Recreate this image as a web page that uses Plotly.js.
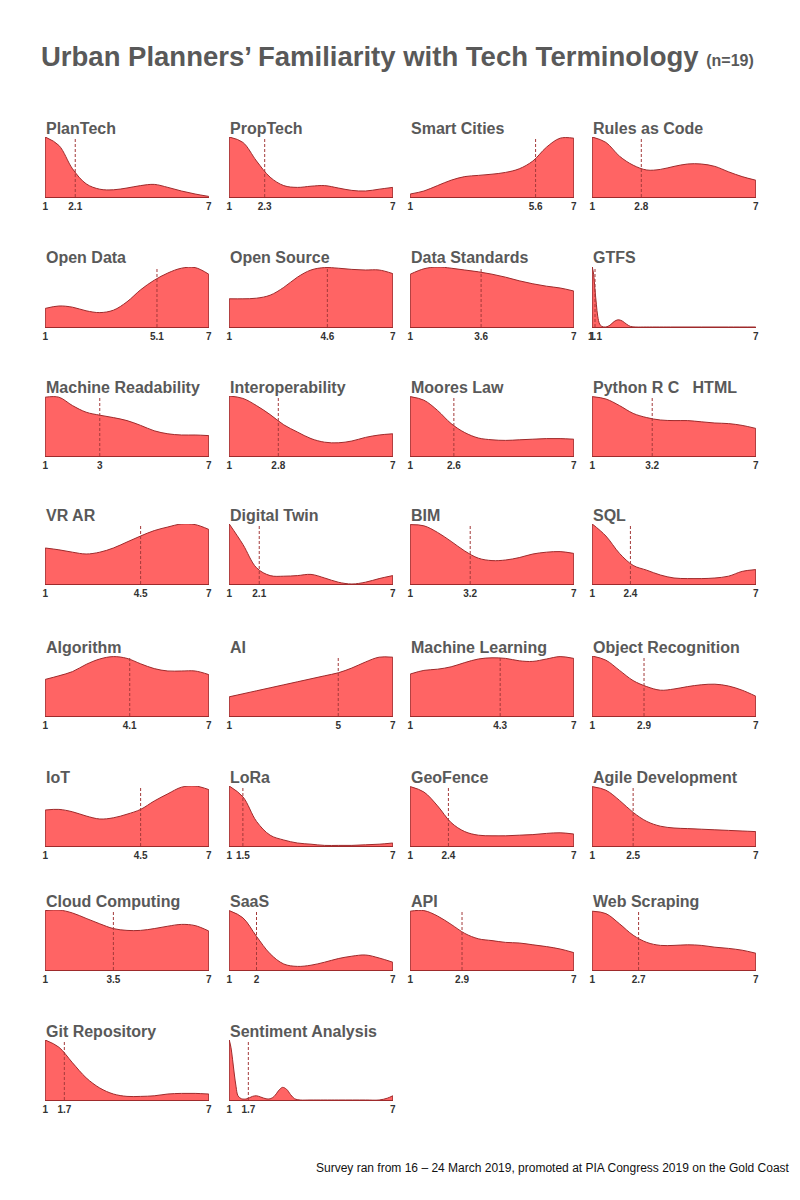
<!DOCTYPE html>
<html><head><meta charset="utf-8">
<script src="https://cdn.plot.ly/plotly-3.0.1.min.js"></script>
<style>html,body{margin:0;padding:0;background:#fff}</style>
</head><body><div id="chart" style="width:800px;height:1200px"></div>
<script>
// ---------------- DATA ----------------
const terms = [
  "PlanTech", "PropTech", "Smart Cities", "Rules as Code",
  "Open Data", "Open Source", "Data Standards", "GTFS",
  "Machine Readability", "Interoperability", "Moores Law", "Python R C\u00a0\u00a0\u00a0HTML",
  "VR AR", "Digital Twin", "BIM", "SQL",
  "Algorithm", "AI", "Machine Learning", "Object Recognition",
  "IoT", "LoRa", "GeoFence", "Agile Development",
  "Cloud Computing", "SaaS", "API", "Web Scraping",
  "Git Repository", "Sentiment Analysis"
];
const means = [
  2.1, 2.3, 5.6, 2.8,
  5.1, 4.6, 3.6, 1.1,
  3, 2.8, 2.6, 3.2,
  4.5, 2.1, 3.2, 2.4,
  4.1, 5, 4.3, 2.9,
  4.5, 1.5, 2.4, 2.5,
  3.5, 2, 2.9, 2.7,
  1.7, 1.7
];
// familiarity scale 1..7, density relative to each term's peak
const xGrid = [1, 1.5, 2, 2.5, 3, 3.5, 4, 4.5, 5, 5.5, 6, 6.5, 7];
const densities = [
  [1.0, 0.86, 0.47, 0.22, 0.13, 0.12, 0.15, 0.19, 0.21, 0.16, 0.10, 0.05, 0.01],
  [1.0, 0.91, 0.60, 0.33, 0.19, 0.16, 0.18, 0.19, 0.15, 0.11, 0.10, 0.13, 0.16],
  [0.05, 0.10, 0.19, 0.28, 0.34, 0.36, 0.38, 0.41, 0.47, 0.60, 0.83, 0.98, 0.98],
  [1.0, 0.91, 0.68, 0.53, 0.45, 0.46, 0.51, 0.55, 0.55, 0.51, 0.42, 0.34, 0.28],
  [0.31, 0.35, 0.33, 0.27, 0.24, 0.28, 0.42, 0.62, 0.78, 0.90, 0.98, 0.99, 0.88],
  [0.47, 0.47, 0.48, 0.53, 0.66, 0.83, 0.95, 0.99, 0.98, 0.96, 0.95, 0.95, 0.89],
  [0.88, 0.97, 1.0, 0.98, 0.95, 0.92, 0.88, 0.83, 0.77, 0.72, 0.68, 0.65, 0.60],
  null,
  [0.98, 0.98, 0.84, 0.73, 0.68, 0.64, 0.59, 0.51, 0.42, 0.37, 0.35, 0.35, 0.34],
  [1.0, 0.96, 0.84, 0.69, 0.52, 0.40, 0.29, 0.23, 0.22, 0.25, 0.31, 0.35, 0.37],
  [0.99, 0.93, 0.76, 0.54, 0.39, 0.30, 0.27, 0.26, 0.27, 0.28, 0.29, 0.29, 0.28],
  [0.99, 0.95, 0.84, 0.71, 0.64, 0.60, 0.59, 0.59, 0.57, 0.55, 0.54, 0.51, 0.46],
  [0.60, 0.57, 0.53, 0.50, 0.53, 0.60, 0.70, 0.80, 0.89, 0.95, 1.0, 0.99, 0.91],
  [1.0, 0.66, 0.27, 0.14, 0.13, 0.14, 0.16, 0.10, 0.03, 0.0, 0.03, 0.09, 0.14],
  [0.99, 0.97, 0.86, 0.71, 0.55, 0.43, 0.39, 0.40, 0.44, 0.50, 0.53, 0.54, 0.51],
  [1.0, 0.80, 0.51, 0.31, 0.23, 0.15, 0.10, 0.09, 0.09, 0.10, 0.13, 0.21, 0.24],
  [0.61, 0.67, 0.74, 0.86, 0.95, 0.99, 0.96, 0.87, 0.79, 0.75, 0.75, 0.75, 0.69],
  [0.32, 0.37, 0.42, 0.47, 0.52, 0.57, 0.62, 0.67, 0.72, 0.80, 0.90, 0.98, 0.98],
  [0.70, 0.76, 0.78, 0.82, 0.89, 0.95, 0.97, 0.96, 0.92, 0.91, 0.95, 0.99, 0.96],
  [1.0, 0.93, 0.76, 0.59, 0.49, 0.43, 0.45, 0.49, 0.52, 0.53, 0.50, 0.43, 0.33],
  [0.60, 0.61, 0.57, 0.50, 0.45, 0.47, 0.53, 0.61, 0.75, 0.87, 0.98, 1.0, 0.94],
  [1.0, 0.82, 0.41, 0.18, 0.10, 0.05, 0.03, 0.01, 0.01, 0.01, 0.02, 0.03, 0.05],
  [0.99, 0.90, 0.67, 0.39, 0.24, 0.18, 0.17, 0.17, 0.18, 0.19, 0.21, 0.22, 0.20],
  [0.99, 0.93, 0.76, 0.56, 0.41, 0.33, 0.30, 0.29, 0.28, 0.27, 0.26, 0.25, 0.24],
  [0.99, 1.0, 0.95, 0.86, 0.77, 0.69, 0.66, 0.66, 0.69, 0.73, 0.76, 0.74, 0.65],
  [0.99, 0.87, 0.56, 0.27, 0.10, 0.06, 0.08, 0.13, 0.19, 0.23, 0.25, 0.20, 0.13],
  [0.98, 0.99, 0.90, 0.76, 0.61, 0.52, 0.49, 0.46, 0.45, 0.42, 0.39, 0.35, 0.29],
  [0.98, 0.94, 0.77, 0.58, 0.46, 0.41, 0.41, 0.42, 0.41, 0.38, 0.36, 0.33, 0.28],
  [1.0, 0.88, 0.62, 0.37, 0.20, 0.10, 0.06, 0.06, 0.07, 0.10, 0.11, 0.11, 0.10],
  null
];
// finer sampling for the spiky distributions
const gtfsX = [1, 1.05, 1.1, 1.15, 1.2, 1.27, 1.35, 1.5, 1.65, 1.8, 1.95, 2.1, 2.25, 2.4, 2.6, 3, 4, 5, 6, 7];
const gtfsDensity = [1.0, 0.88, 0.62, 0.38, 0.18, 0.05, 0.01, 0.0, 0.03, 0.09, 0.12, 0.10, 0.05, 0.01, 0, 0, 0, 0, 0, 0];
const sentimentX = [1, 1.06, 1.12, 1.18, 1.25, 1.32, 1.45, 1.65, 1.85, 2.0, 2.15, 2.35, 2.5, 2.65, 2.8, 2.95, 3.1, 3.25, 3.4, 3.6, 4, 5, 6, 6.5, 6.8, 7];
const sentimentDensity = [1.0, 0.88, 0.68, 0.45, 0.22, 0.07, 0.02, 0.02, 0.06, 0.07, 0.05, 0.02, 0.02, 0.06, 0.15, 0.21, 0.18, 0.09, 0.02, 0.0, 0, 0, 0, 0.0, 0.03, 0.07];
const axisEnds = [1, 7];

const chartTitle = "Urban Planners\u2019 Familiarity with Tech Terminology";
const chartSubtitle = "(n=19)";
const footnote = "Survey ran from 16 \u2013 24 March 2019, promoted at PIA Congress 2019 on the Gold Coast";

// ---------------- LAYOUT ----------------
const W = 800, H = 1200;
const colLeft = [45, 229, 410, 592];
const panelW = 164, panelH = 60;
const rowBase = [197, 327, 456, 584, 716, 846, 970, 1100];
const fillCol = "#FF6464", edgeCol = "#9E2A2B", meanCol = "#A33A3A";
const titleCol = "#595959";

const data = [];
const layout = {
  width: W, height: H,
  margin: {l: 0, r: 0, t: 0, b: 0},
  paper_bgcolor: "#fff", plot_bgcolor: "rgba(0,0,0,0)",
  showlegend: false,
  font: {family: "Liberation Sans, Arial, sans-serif"},
  shapes: [], annotations: []
};

terms.forEach((term, i) => {
  const k = i + 1;
  const sx = k === 1 ? "" : String(k);
  const row = Math.floor(i / 4), col = i % 4;
  let xs = xGrid, ys = densities[i];
  if (term === "GTFS") { xs = gtfsX; ys = gtfsDensity; }
  if (term === "Sentiment Analysis") { xs = sentimentX; ys = sentimentDensity; }
  data.push({
    type: "scatter", mode: "lines", x: xs, y: ys,
    xaxis: "x" + sx, yaxis: "y" + sx,
    line: {shape: "spline", smoothing: 1, color: edgeCol, width: 1},
    fill: "tozeroy", fillcolor: fillCol, hoverinfo: "skip"
  });
  const L = colLeft[col], B = rowBase[row];
  layout["xaxis" + sx] = {
    domain: [L / W, (L + panelW) / W], anchor: "y" + sx,
    range: [axisEnds[0] - 0.01, axisEnds[1] + 0.01],
    tickmode: "array", tickvals: [axisEnds[0], means[i], axisEnds[1]],
    ticktext: [String(axisEnds[0]), String(means[i]), String(axisEnds[1])],
    tickangle: 0,
    ticks: "", showgrid: false, zeroline: false,
    showline: true, linecolor: edgeCol, linewidth: 1,
    tickfont: {family: "Liberation Sans, Arial, sans-serif", size: 10, color: "#333", weight: "bold"},
    fixedrange: true
  };
  layout["yaxis" + sx] = {
    domain: [1 - B / H, 1 - (B - panelH) / H], anchor: "x" + sx,
    range: [0, 1.0], showticklabels: false, showgrid: false, zeroline: false,
    showline: false, ticks: "", fixedrange: true
  };
  // mean line
  layout.shapes.push({
    type: "line", xref: "x" + sx, yref: "y" + sx + " domain",
    x0: means[i], x1: means[i], y0: 0, y1: 1,
    line: {color: meanCol, width: 1, dash: "3px,2px"}
  });
  // closing edges of the density area
  layout.shapes.push({
    type: "line", xref: "x" + sx, yref: "y" + sx,
    x0: xs[0], x1: xs[0], y0: 0, y1: ys[0], line: {color: edgeCol, width: 1}
  });
  layout.shapes.push({
    type: "line", xref: "x" + sx, yref: "y" + sx,
    x0: xs[xs.length - 1], x1: xs[xs.length - 1], y0: 0, y1: ys[ys.length - 1],
    line: {color: edgeCol, width: 1}
  });
  layout.annotations.push({
    text: term, xref: "paper", yref: "paper",
    x: (L - 1) / W, y: 1 - (B - 69) / H, xanchor: "left", yanchor: "middle",
    showarrow: false,
    font: {family: "Liberation Sans, Arial, sans-serif", size: 16, color: titleCol, weight: "bold"}
  });
});

layout.annotations.push({
  text: chartTitle + " <span style='font-size:16px'>" + chartSubtitle + "</span>",
  xref: "paper", yref: "paper", x: 39 / W, y: 1 - 57 / H,
  xanchor: "left", yanchor: "middle", showarrow: false,
  font: {family: "Liberation Sans, Arial, sans-serif", size: 27.5, color: titleCol, weight: "bold"}
});
layout.annotations.push({
  text: footnote, xref: "paper", yref: "paper", x: 792 / W, y: 1 - 1168 / H,
  xanchor: "right", yanchor: "middle", showarrow: false,
  font: {family: "Liberation Sans, Arial, sans-serif", size: 12, color: "#111"}
});

Plotly.newPlot("chart", data, layout, {staticPlot: true, displayModeBar: false});
</script>
</body></html>
